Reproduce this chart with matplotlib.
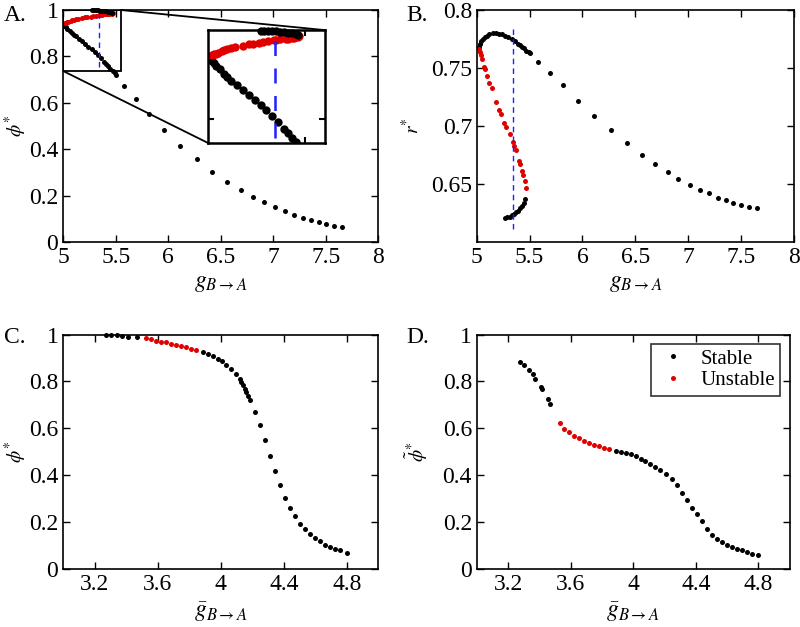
import matplotlib
matplotlib.use("Agg")
import matplotlib.pyplot as plt
from matplotlib.patches import Rectangle, ConnectionPatch

plt.rcParams['font.family'] = 'serif'
plt.rcParams['font.serif'] = ['Liberation Serif', 'DejaVu Serif']
plt.rcParams['mathtext.fontset'] = 'stix'

# ---- panels A/B : bifurcation in g_{B->A} ----
# stable branch (lower phi / upper r), dense part then sparse tail
g_s1 = [5.02, 5.03, 5.04, 5.06, 5.08, 5.10, 5.12, 5.15, 5.18, 5.21, 5.24, 5.27, 5.30, 5.33,
        5.36, 5.39, 5.41, 5.43, 5.45, 5.47, 5.49, 5.50,
        5.58, 5.69, 5.82, 5.96, 6.11, 6.27, 6.42, 6.56, 6.69, 6.81, 6.91, 7.02, 7.11, 7.20,
        7.28, 7.36, 7.43, 7.50, 7.58, 7.65]
phi_s1 = [0.930, 0.925, 0.920, 0.911, 0.901, 0.893, 0.886, 0.875, 0.865, 0.853, 0.842, 0.831,
          0.819, 0.806, 0.792, 0.777, 0.767, 0.757, 0.747, 0.737, 0.728, 0.722,
          0.672, 0.615, 0.550, 0.483, 0.415, 0.356, 0.303, 0.260, 0.224, 0.195, 0.171, 0.150,
          0.132, 0.118, 0.105, 0.093, 0.085, 0.078, 0.070, 0.063]
r_s1 = [0.768, 0.771, 0.773, 0.775, 0.777, 0.778, 0.779, 0.780, 0.780, 0.779, 0.779, 0.778,
        0.777, 0.775, 0.773, 0.771, 0.770, 0.768, 0.767, 0.765, 0.764, 0.763,
        0.755, 0.746, 0.735, 0.722, 0.709, 0.697, 0.685, 0.675, 0.667, 0.660, 0.654, 0.649,
        0.645, 0.642, 0.638, 0.636, 0.634, 0.632, 0.630, 0.629]

# unstable branch
g_u = [5.02, 5.03, 5.04, 5.05, 5.07, 5.08, 5.10, 5.12, 5.14, 5.18, 5.21, 5.23, 5.26, 5.28,
       5.31, 5.34, 5.35, 5.37, 5.40, 5.41, 5.43, 5.44, 5.46, 5.47]
phi_u = [0.943, 0.945, 0.947, 0.949, 0.953, 0.955, 0.957, 0.960, 0.962, 0.965, 0.968, 0.969,
         0.971, 0.973, 0.975, 0.977, 0.978, 0.979, 0.981, 0.981, 0.982, 0.983, 0.984, 0.986]
r_u = [0.766, 0.764, 0.761, 0.758, 0.751, 0.749, 0.743, 0.737, 0.733, 0.721, 0.714, 0.710,
       0.703, 0.699, 0.693, 0.686, 0.683, 0.679, 0.670, 0.667, 0.661, 0.658, 0.653, 0.647]

# second stable branch (phi ~ 1, low r)
g_s2 = [5.27, 5.29, 5.31, 5.33, 5.35, 5.37, 5.39, 5.41, 5.43, 5.45, 5.46]
phi_s2 = [0.999, 0.999, 0.998, 0.998, 0.997, 0.996, 0.995, 0.994, 0.993, 0.991, 0.989]
r_s2 = [0.621, 0.622, 0.622, 0.623, 0.624, 0.626, 0.627, 0.629, 0.631, 0.634, 0.637]

g_mark = 5.345

# ---- panel C : phi* vs gbar ----
gc_s1 = [3.274, 3.306, 3.343, 3.374, 3.413, 3.466]
phic_s1 = [1.000, 0.997, 0.997, 0.994, 0.991, 0.989]
gc_u = [3.523, 3.555, 3.587, 3.619, 3.651, 3.683, 3.715, 3.747, 3.779, 3.811, 3.843]
phic_u = [0.983, 0.979, 0.974, 0.970, 0.966, 0.961, 0.957, 0.951, 0.946, 0.940, 0.934]
gc_s2 = [3.885, 3.917, 3.949, 3.981, 4.009, 4.034, 4.066, 4.098, 4.119, 4.130, 4.140, 4.151,
         4.162, 4.172, 4.183, 4.215, 4.251, 4.281, 4.313, 4.345, 4.374, 4.409, 4.436, 4.470,
         4.502, 4.534, 4.566, 4.598, 4.630, 4.662, 4.694, 4.726, 4.757, 4.800]
phic_s2 = [0.926, 0.917, 0.907, 0.897, 0.886, 0.871, 0.854, 0.833, 0.811, 0.797, 0.783, 0.769,
           0.754, 0.738, 0.721, 0.671, 0.614, 0.550, 0.483, 0.416, 0.357, 0.304, 0.261, 0.226,
           0.194, 0.171, 0.151, 0.133, 0.119, 0.104, 0.093, 0.086, 0.080, 0.069]

# ---- panel D : phi-tilde* vs gbar ----
gd_s1 = [3.274, 3.301, 3.333, 3.359, 3.375, 3.408, 3.418, 3.458, 3.470]
phid_s1 = [0.883, 0.869, 0.847, 0.830, 0.811, 0.776, 0.766, 0.726, 0.704]
gd_u = [3.532, 3.560, 3.591, 3.623, 3.655, 3.686, 3.718, 3.750, 3.782, 3.813, 3.845]
phid_u = [0.623, 0.597, 0.583, 0.569, 0.557, 0.547, 0.537, 0.530, 0.523, 0.516, 0.510]
gd_s2 = [3.888, 3.919, 3.951, 3.983, 4.015, 4.047, 4.078, 4.110, 4.142, 4.174, 4.212, 4.248,
         4.280, 4.311, 4.343, 4.375, 4.407, 4.439, 4.470, 4.502, 4.534, 4.566, 4.597, 4.629,
         4.661, 4.693, 4.725, 4.757, 4.800]
phid_s2 = [0.504, 0.500, 0.494, 0.489, 0.481, 0.471, 0.461, 0.447, 0.433, 0.421, 0.404, 0.383,
           0.357, 0.326, 0.293, 0.261, 0.233, 0.204, 0.169, 0.147, 0.130, 0.116, 0.101, 0.093,
           0.086, 0.079, 0.073, 0.066, 0.059]

FS = 17
YFS = 14
MS = 3.6
RED = '#e00000'
BLUE = '#1f1fff'


def style(ax):
    ax.tick_params(direction='in', top=True, right=True, labelsize=FS, length=5, width=1.0)
    for s in ax.spines.values():
        s.set_linewidth(1.2)


def dots(ax, x, y, c, ms=MS, **kw):
    return ax.plot(x, y, 'o', color=c, ms=ms, mew=0, clip_on=False, **kw)


fig = plt.figure(figsize=(8, 6.27), dpi=100)

# A
axA = fig.add_axes([0.079, 0.614, 0.394, 0.370])
dots(axA, g_s1, phi_s1, 'k')
dots(axA, g_u, phi_u, RED)
dots(axA, g_s2, phi_s2, 'k')
axA.plot([g_mark, g_mark], [0.756, 0.978], '--', color=BLUE, lw=1.0, dashes=(4, 3))
axA.set_xlim(5, 8)
axA.set_ylim(0, 1)
axA.set_xticks([5, 5.5, 6, 6.5, 7, 7.5, 8])
axA.set_xticklabels(['5', '5.5', '6', '6.5', '7', '7.5', '8'])
axA.set_yticks([0, 0.2, 0.4, 0.6, 0.8, 1])
axA.set_yticklabels(['0', '0.2', '0.4', '0.6', '0.8', '1'])
axA.set_xlabel(r'$g_{B\rightarrow A}$', fontsize=FS)
axA.set_ylabel(r'$\phi^{*}$', fontsize=YFS)
axA.yaxis.set_label_coords(-0.11, 0.5)
style(axA)

# zoom inset of A
axI = fig.add_axes([0.26, 0.772, 0.146, 0.180])
axI.plot(g_s1, phi_s1, 'o', color='k', ms=6, mew=0)
axI.plot(g_u, phi_u, 'o', color=RED, ms=6, mew=0)
axI.plot(g_s2, phi_s2, 'o', color='k', ms=6, mew=0, clip_on=False)
axI.plot([g_mark, g_mark], [0.756, 0.978], '--', color=BLUE, lw=1.8, dashes=(6, 5))
axI.set_xlim(5, 5.6)
axI.set_ylim(0.745, 1.0)
axI.set_xticks([5.5])
axI.set_yticks([0.8])
axI.set_xticklabels([])
axI.set_yticklabels([])
axI.tick_params(direction='in', top=True, right=True, length=4, width=1.5)
for s in axI.spines.values():
    s.set_linewidth(1.8)

# zoom box in A and its connectors to the inset
box_x0, box_x1, box_y0, box_y1 = 5.0, 5.55, 0.737, 1.0
axA.add_patch(Rectangle((box_x0, box_y0), box_x1 - box_x0, box_y1 - box_y0,
                        fill=False, ec='k', lw=1.3, zorder=5))
fig.add_artist(ConnectionPatch((box_x1, box_y1), (1, 1), coordsA=axA.transData,
                               coordsB=axI.transAxes, color='k', lw=1.3))
fig.add_artist(ConnectionPatch((box_x0, box_y0), (0, 0), coordsA=axA.transData,
                               coordsB=axI.transAxes, color='k', lw=1.3))

# B
axB = fig.add_axes([0.596, 0.614, 0.396, 0.370])
dots(axB, g_s1, r_s1, 'k')
dots(axB, g_u, r_u, RED)
dots(axB, g_s2, r_s2, 'k')
axB.plot([g_mark, g_mark], [0.611, 0.786], '--', color=BLUE, lw=1.0, dashes=(4, 3))
axB.set_xlim(5, 8)
axB.set_ylim(0.6, 0.8)
axB.set_xticks([5, 5.5, 6, 6.5, 7, 7.5, 8])
axB.set_xticklabels(['5', '5.5', '6', '6.5', '7', '7.5', '8'])
axB.set_yticks([0.65, 0.7, 0.75, 0.8])
axB.set_yticklabels(['0.65', '0.7', '0.75', '0.8'])
axB.set_xlabel(r'$g_{B\rightarrow A}$', fontsize=FS)
axB.set_ylabel(r'$r^{*}$', fontsize=YFS)
axB.yaxis.set_label_coords(-0.17, 0.5)
style(axB)

# C
axC = fig.add_axes([0.079, 0.0925, 0.394, 0.374])
dots(axC, gc_s1, phic_s1, 'k')
dots(axC, gc_u, phic_u, RED)
dots(axC, gc_s2, phic_s2, 'k')
axC.set_xlim(3, 5)
axC.set_ylim(0, 1)
axC.set_xticks([3.2, 3.6, 4, 4.4, 4.8])
axC.set_xticklabels(['3.2', '3.6', '4', '4.4', '4.8'])
axC.set_yticks([0, 0.2, 0.4, 0.6, 0.8, 1])
axC.set_yticklabels(['0', '0.2', '0.4', '0.6', '0.8', '1'])
axC.set_xlabel(r'$\bar{g}_{B\rightarrow A}$', fontsize=FS)
axC.set_ylabel(r'$\phi^{*}$', fontsize=YFS)
axC.yaxis.set_label_coords(-0.11, 0.5)
style(axC)

# D
axD = fig.add_axes([0.596, 0.0925, 0.391, 0.374])
dots(axD, gd_s1, phid_s1, 'k', label='Stable')
dots(axD, gd_u, phid_u, RED, label='Unstable')
dots(axD, gd_s2, phid_s2, 'k')
axD.set_xlim(3, 5)
axD.set_ylim(0, 1)
axD.set_xticks([3.2, 3.6, 4, 4.4, 4.8])
axD.set_xticklabels(['3.2', '3.6', '4', '4.4', '4.8'])
axD.set_yticks([0, 0.2, 0.4, 0.6, 0.8, 1])
axD.set_yticklabels(['0', '0.2', '0.4', '0.6', '0.8', '1'])
axD.set_xlabel(r'$\bar{g}_{B\rightarrow A}$', fontsize=FS)
axD.set_ylabel(r'$\tilde{\phi}^{*}$', fontsize=YFS)
axD.yaxis.set_label_coords(-0.15, 0.5)
leg = axD.legend(loc='upper right', fontsize=FS - 2, frameon=True, fancybox=False,
                 edgecolor='k', handlelength=1.6, handletextpad=0.5, borderpad=0.25,
                 labelspacing=0.1, borderaxespad=0.45)
leg.get_frame().set_linewidth(1.2)
style(axD)

for lab, x, y in [('A.', 0.005, 0.975), ('B.', 0.508, 0.975), ('C.', 0.005, 0.462), ('D.', 0.508, 0.462)]:
    fig.text(x, y, lab, fontsize=FS, ha='left', va='center')

fig.savefig('out.png', dpi=100)
